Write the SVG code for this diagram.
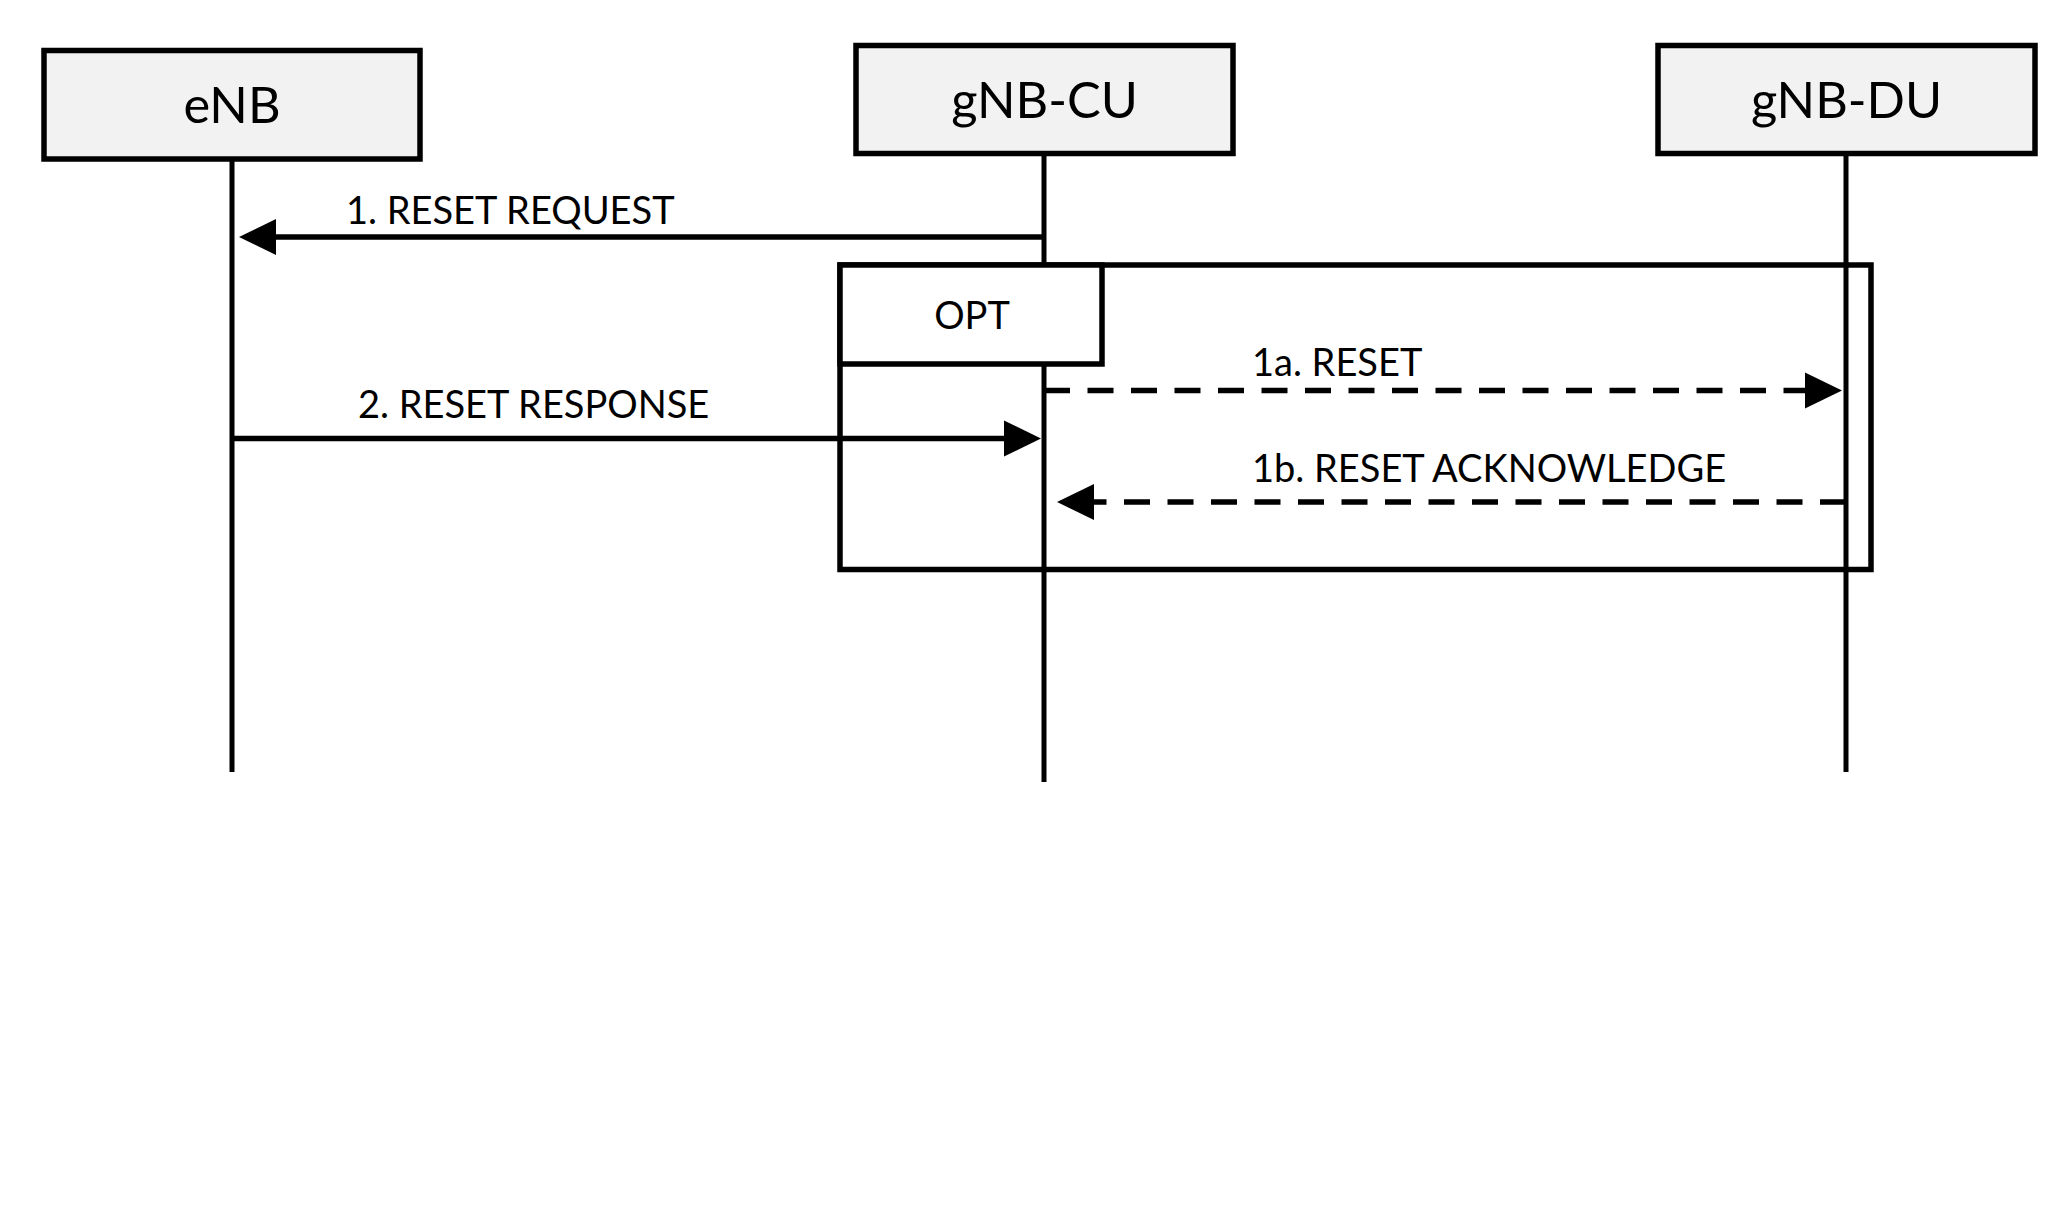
<svg xmlns="http://www.w3.org/2000/svg" width="2048" height="1227" viewBox="0 0 2048 1227">
  <style>
    .node rect { fill: #f2f2f2; stroke: #000; stroke-width: 5.5; }
    .nlabel { font-family: Lato, "Liberation Sans", sans-serif; font-size: 50.5px; fill: #000; text-anchor: middle; }
    .life { stroke: #000; stroke-width: 5; fill: none; }
    .msg { stroke: #000; stroke-width: 5.5; fill: none; }
    .dash { stroke-dasharray: 26 17.5; }
    .mlabel { font-family: Lato, "Liberation Sans", sans-serif; font-size: 38px; fill: #000; }
    .frame { fill: none; stroke: #000; stroke-width: 5.5; }
    .tab { fill: #fff; stroke: #000; stroke-width: 5.5; }
  </style>
  <defs>
    <marker id="arrow" viewBox="0 0 40 40" refX="0" refY="20" markerWidth="40" markerHeight="40" markerUnits="userSpaceOnUse" orient="auto">
      <path d="M0,2 L37,20 L0,38 Z" fill="#000"/>
    </marker>
  </defs>
  <rect width="2048" height="1227" fill="#fff"/>

  <g id="lifelines">
    <line class="life" x1="232" y1="159" x2="232" y2="772"/>
    <line class="life" x1="1044" y1="153" x2="1044" y2="782"/>
    <line class="life" x1="1846" y1="153" x2="1846" y2="772"/>
  </g>

  <g id="opt-frame">
    <rect class="frame" x="840" y="265" width="1031" height="304.5"/>
    <rect class="tab" x="840" y="265" width="262" height="99"/>
    <text class="mlabel" x="972" y="329" text-anchor="middle">OPT</text>
  </g>

  <g id="eNB" class="node">
    <rect x="44" y="50.5" width="376" height="108.5"/>
    <text class="nlabel" x="232" y="123">eNB</text>
  </g>
  <g id="gNB-CU" class="node">
    <rect x="856" y="45.5" width="377" height="108"/>
    <text class="nlabel" x="1044.5" y="117.5">gNB-CU</text>
  </g>
  <g id="gNB-DU" class="node">
    <rect x="1658" y="45.5" width="377" height="108"/>
    <text class="nlabel" x="1846.5" y="117.5">gNB-DU</text>
  </g>

  <g id="connectors">
    <line class="msg" x1="1044" y1="237" x2="276" y2="237" marker-end="url(#arrow)"/>
    <line class="msg dash" x1="1044" y1="390.5" x2="1805" y2="390.5" marker-end="url(#arrow)"/>
    <line class="msg" x1="232" y1="438.5" x2="1004" y2="438.5" marker-end="url(#arrow)"/>
    <line class="msg dash" x1="1846" y1="502" x2="1094" y2="502" marker-end="url(#arrow)"/>
  </g>

  <g id="labels">
    <text class="mlabel" x="346" y="224">1. RESET REQUEST</text>
    <text class="mlabel" x="1252" y="376">1a. RESET</text>
    <text class="mlabel" x="358" y="418">2. RESET RESPONSE</text>
    <text class="mlabel" x="1252" y="482">1b. RESET ACKNOWLEDGE</text>
  </g>
</svg>
